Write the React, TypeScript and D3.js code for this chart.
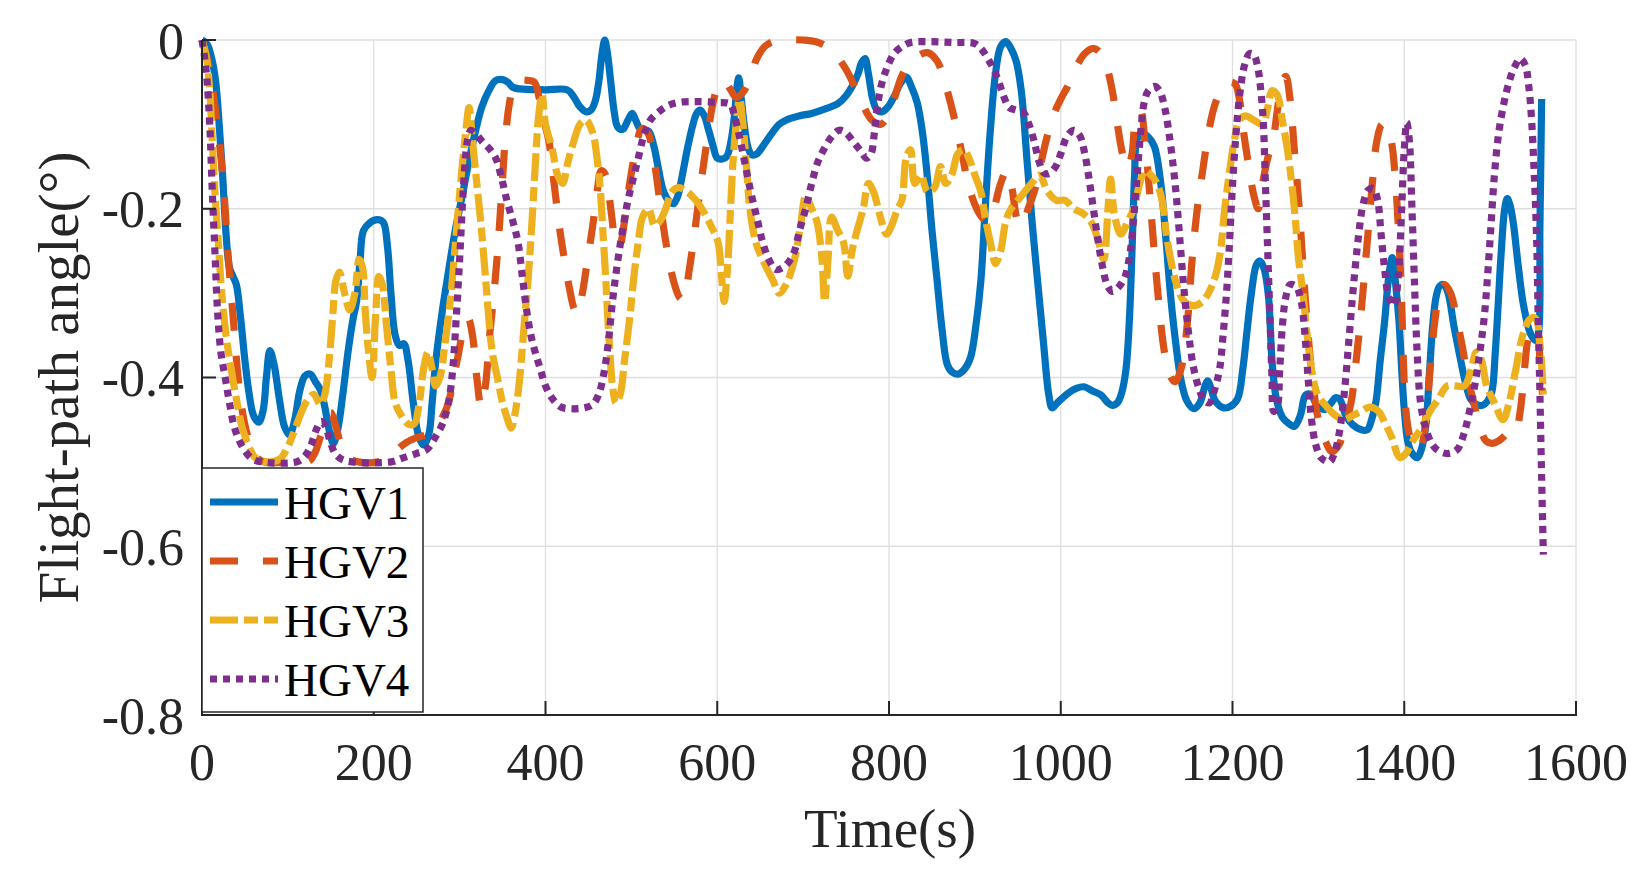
import React from "react";
import * as d3 from "d3";

type Pt = [number, number];

const xTicks = [0, 200, 400, 600, 800, 1000, 1200, 1400, 1600];
const yTicks = [0, -0.2, -0.4, -0.6, -0.8];
const yTickLabels = ["0", "-0.2", "-0.4", "-0.6", "-0.8"];
const seriesNames = ["HGV1", "HGV2", "HGV3", "HGV4"];

const hgv1: Pt[] = [
  [0,0],[6,-0.005],[12,-0.025],[16,-0.05],[20,-0.1],[24,-0.16],[28,-0.23],[32,-0.27],[36,-0.28],[40,-0.29],[45,-0.33],[50,-0.38],[55,-0.42],[60,-0.445],[66,-0.453],[71,-0.44],[75,-0.4],[79,-0.368],[84,-0.385],[90,-0.425],[96,-0.458],[102,-0.468],[108,-0.45],[114,-0.415],[120,-0.398],[126,-0.396],[132,-0.405],[138,-0.415],[143,-0.435],[148,-0.462],[153,-0.478],[158,-0.462],[164,-0.42],[170,-0.37],[176,-0.33],[180,-0.31],[184,-0.262],[188,-0.226],[195,-0.217],[204,-0.213],[211,-0.216],[216,-0.245],[220,-0.3],[225,-0.35],[230,-0.362],[235,-0.36],[240,-0.38],[246,-0.43],[252,-0.468],[258,-0.48],[264,-0.468],[268,-0.43],[272,-0.383],[280,-0.32],[288,-0.268],[295,-0.225],[302,-0.19],[310,-0.148],[318,-0.11],[326,-0.079],[334,-0.06],[342,-0.048],[350,-0.047],[356,-0.05],[362,-0.056],[370,-0.058],[400,-0.059],[425,-0.059],[432,-0.066],[440,-0.079],[447,-0.085],[453,-0.083],[458,-0.072],[462,-0.05],[466,-0.015],[469,0],[472,-0.015],[476,-0.05],[480,-0.085],[484,-0.103],[490,-0.106],[496,-0.095],[501,-0.087],[505,-0.095],[510,-0.105],[520,-0.108],[526,-0.125],[531,-0.15],[537,-0.178],[543,-0.19],[549,-0.194],[554,-0.185],[559,-0.162],[565,-0.13],[571,-0.103],[576,-0.087],[580,-0.083],[585,-0.09],[590,-0.107],[595,-0.125],[600,-0.14],[606,-0.141],[611,-0.138],[616,-0.12],[620,-0.09],[623,-0.055],[625,-0.045],[628,-0.07],[632,-0.105],[636,-0.128],[640,-0.136],[646,-0.135],[655,-0.123],[664,-0.11],[672,-0.1],[680,-0.095],[695,-0.09],[710,-0.087],[725,-0.082],[741,-0.075],[750,-0.066],[757,-0.055],[764,-0.04],[768,-0.027],[772,-0.022],[776,-0.04],[781,-0.07],[786,-0.083],[792,-0.085],[799,-0.079],[806,-0.067],[813,-0.052],[820,-0.044],[826,-0.055],[833,-0.075],[839,-0.11],[845,-0.166],[850,-0.225],[856,-0.285],[862,-0.345],[868,-0.385],[874,-0.394],[880,-0.396],[888,-0.39],[895,-0.376],[901,-0.34],[907,-0.285],[912,-0.2],[918,-0.107],[924,-0.04],[930,-0.008],[936,-0.002],[942,-0.01],[948,-0.025],[954,-0.06],[961,-0.146],[967,-0.22],[973,-0.285],[980,-0.36],[986,-0.42],[990,-0.436],[996,-0.43],[1008,-0.419],[1018,-0.413],[1027,-0.411],[1037,-0.416],[1047,-0.421],[1055,-0.43],[1060,-0.433],[1066,-0.43],[1071,-0.418],[1076,-0.39],[1080,-0.33],[1083,-0.25],[1086,-0.16],[1089,-0.117],[1095,-0.111],[1102,-0.115],[1109,-0.126],[1116,-0.166],[1122,-0.23],[1128,-0.304],[1134,-0.36],[1140,-0.403],[1147,-0.428],[1155,-0.437],[1162,-0.43],[1168,-0.41],[1171,-0.404],[1175,-0.413],[1180,-0.428],[1190,-0.436],[1198,-0.434],[1206,-0.425],[1212,-0.39],[1217,-0.344],[1222,-0.3],[1228,-0.266],[1232,-0.262],[1237,-0.272],[1242,-0.305],[1246,-0.38],[1251,-0.425],[1258,-0.447],[1266,-0.455],[1272,-0.458],[1279,-0.445],[1285,-0.421],[1291,-0.42],[1298,-0.432],[1307,-0.438],[1315,-0.43],[1320,-0.424],[1325,-0.426],[1332,-0.445],[1340,-0.456],[1350,-0.462],[1357,-0.462],[1362,-0.45],[1367,-0.429],[1372,-0.38],[1377,-0.335],[1382,-0.28],[1386,-0.258],[1390,-0.29],[1394,-0.335],[1397,-0.39],[1400,-0.438],[1404,-0.475],[1408,-0.488],[1415,-0.495],[1420,-0.485],[1425,-0.458],[1429,-0.4],[1433,-0.34],[1437,-0.305],[1441,-0.292],[1446,-0.29],[1451,-0.3],[1458,-0.34],[1465,-0.376],[1471,-0.405],[1477,-0.425],[1484,-0.432],[1491,-0.433],[1497,-0.428],[1502,-0.417],[1506,-0.37],[1509,-0.32],[1513,-0.25],[1517,-0.2],[1520,-0.188],[1523,-0.195],[1527,-0.217],[1533,-0.27],[1539,-0.315],[1547,-0.348],[1553,-0.356],[1556,-0.35],[1558,-0.22],[1560,-0.07]
];

const hgv2: Pt[] = [
  [0,0],[8,-0.03],[14,-0.07],[20,-0.12],[24,-0.16],[27,-0.2],[30,-0.25],[34,-0.3],[38,-0.35],[42,-0.4],[47,-0.44],[52,-0.465],[60,-0.49],[72,-0.5],[100,-0.5],[120,-0.5],[126,-0.498],[132,-0.488],[138,-0.47],[145,-0.452],[150,-0.442],[155,-0.455],[162,-0.48],[170,-0.495],[182,-0.5],[205,-0.5],[218,-0.495],[228,-0.485],[238,-0.477],[248,-0.472],[260,-0.468],[270,-0.462],[280,-0.447],[287,-0.43],[293,-0.4],[299,-0.37],[305,-0.34],[310,-0.33],[315,-0.35],[320,-0.4],[325,-0.435],[330,-0.41],[335,-0.35],[340,-0.3],[345,-0.24],[349,-0.18],[353,-0.12],[358,-0.075],[363,-0.055],[370,-0.048],[380,-0.048],[387,-0.05],[393,-0.07],[398,-0.095],[404,-0.12],[410,-0.17],[416,-0.22],[422,-0.26],[428,-0.295],[434,-0.32],[438,-0.324],[443,-0.3],[449,-0.26],[455,-0.22],[460,-0.18],[465,-0.155],[470,-0.16],[476,-0.2],[481,-0.235],[486,-0.245],[492,-0.215],[498,-0.17],[505,-0.13],[512,-0.105],[519,-0.11],[526,-0.14],[533,-0.19],[541,-0.245],[549,-0.285],[556,-0.305],[561,-0.308],[567,-0.275],[574,-0.225],[581,-0.17],[588,-0.12],[595,-0.075],[601,-0.055],[607,-0.048],[615,-0.058],[622,-0.068],[630,-0.062],[638,-0.045],[646,-0.022],[655,-0.008],[665,-0.002],[680,0],[700,0],[715,-0.002],[728,-0.008],[740,-0.02],[750,-0.035],[760,-0.055],[770,-0.078],[780,-0.095],[790,-0.1],[798,-0.092],[806,-0.07],[814,-0.045],[822,-0.03],[832,-0.02],[845,-0.015],[856,-0.025],[865,-0.05],[873,-0.08],[880,-0.11],[886,-0.14],[892,-0.17],[900,-0.195],[908,-0.21],[915,-0.215],[922,-0.2],[930,-0.17],[937,-0.155],[943,-0.175],[950,-0.215],[955,-0.22],[962,-0.2],[969,-0.18],[976,-0.15],[984,-0.115],[992,-0.088],[1000,-0.07],[1008,-0.055],[1018,-0.032],[1028,-0.016],[1038,-0.01],[1046,-0.015],[1053,-0.03],[1060,-0.06],[1066,-0.1],[1072,-0.135],[1078,-0.152],[1083,-0.135],[1088,-0.09],[1093,-0.085],[1098,-0.12],[1103,-0.175],[1108,-0.24],[1114,-0.31],[1120,-0.365],[1126,-0.395],[1133,-0.405],[1140,-0.39],[1147,-0.34],[1153,-0.26],[1159,-0.2],[1166,-0.15],[1172,-0.11],[1180,-0.075],[1188,-0.058],[1196,-0.05],[1203,-0.052],[1208,-0.07],[1213,-0.11],[1219,-0.15],[1225,-0.185],[1230,-0.2],[1235,-0.17],[1241,-0.14],[1247,-0.12],[1252,-0.085],[1257,-0.052],[1262,-0.043],[1267,-0.07],[1272,-0.13],[1277,-0.19],[1281,-0.25],[1285,-0.31],[1289,-0.36],[1294,-0.41],[1300,-0.45],[1308,-0.475],[1316,-0.488],[1324,-0.48],[1330,-0.46],[1338,-0.43],[1344,-0.38],[1350,-0.32],[1356,-0.25],[1362,-0.18],[1368,-0.12],[1374,-0.1],[1379,-0.1],[1385,-0.12],[1390,-0.17],[1394,-0.24],[1397,-0.31],[1399,-0.38],[1402,-0.44],[1406,-0.468],[1413,-0.485],[1420,-0.48],[1426,-0.44],[1431,-0.38],[1436,-0.33],[1441,-0.3],[1447,-0.29],[1454,-0.3],[1461,-0.33],[1467,-0.36],[1474,-0.4],[1481,-0.43],[1487,-0.455],[1495,-0.475],[1502,-0.478],[1510,-0.475],[1518,-0.468],[1524,-0.46],[1530,-0.462],[1535,-0.44],[1540,-0.39],[1545,-0.35],[1550,-0.34],[1555,-0.345],[1558,-0.38],[1561,-0.42]
];

const hgv3: Pt[] = [
  [0,0],[5,-0.02],[9,-0.06],[12,-0.12],[15,-0.18],[19,-0.24],[23,-0.3],[28,-0.35],[34,-0.39],[40,-0.425],[47,-0.46],[54,-0.48],[62,-0.495],[75,-0.5],[90,-0.497],[100,-0.482],[108,-0.462],[115,-0.443],[122,-0.428],[130,-0.42],[138,-0.432],[143,-0.42],[148,-0.38],[152,-0.33],[156,-0.285],[160,-0.275],[166,-0.3],[172,-0.32],[178,-0.3],[183,-0.26],[187,-0.27],[190,-0.32],[194,-0.37],[198,-0.4],[202,-0.33],[206,-0.28],[210,-0.29],[215,-0.34],[220,-0.39],[225,-0.43],[232,-0.445],[240,-0.455],[247,-0.455],[253,-0.43],[258,-0.39],[263,-0.37],[268,-0.39],[272,-0.41],[277,-0.4],[283,-0.36],[290,-0.3],[296,-0.23],[302,-0.16],[307,-0.11],[311,-0.08],[315,-0.12],[320,-0.17],[325,-0.22],[330,-0.28],[334,-0.33],[338,-0.37],[344,-0.4],[350,-0.43],[356,-0.45],[360,-0.46],[365,-0.44],[370,-0.4],[375,-0.34],[380,-0.28],[384,-0.22],[388,-0.15],[392,-0.09],[396,-0.065],[400,-0.1],[408,-0.13],[414,-0.16],[420,-0.17],[426,-0.145],[433,-0.12],[440,-0.1],[447,-0.095],[455,-0.11],[460,-0.14],[464,-0.18],[467,-0.23],[470,-0.28],[472,-0.32],[475,-0.37],[478,-0.41],[482,-0.43],[487,-0.42],[492,-0.38],[498,-0.33],[503,-0.28],[508,-0.24],[513,-0.21],[520,-0.2],[527,-0.22],[533,-0.215],[540,-0.2],[547,-0.18],[555,-0.175],[565,-0.18],[575,-0.19],[585,-0.205],[595,-0.225],[601,-0.24],[605,-0.28],[608,-0.31],[612,-0.27],[615,-0.21],[618,-0.15],[622,-0.1],[626,-0.07],[630,-0.1],[634,-0.15],[638,-0.2],[645,-0.24],[655,-0.265],[665,-0.285],[672,-0.3],[680,-0.29],[690,-0.26],[697,-0.22],[703,-0.185],[710,-0.2],[716,-0.215],[722,-0.26],[725,-0.31],[729,-0.26],[733,-0.21],[740,-0.225],[747,-0.24],[752,-0.28],[757,-0.25],[763,-0.225],[770,-0.2],[776,-0.17],[782,-0.18],[790,-0.21],[797,-0.23],[803,-0.22],[810,-0.2],[815,-0.19],[820,-0.14],[825,-0.13],[830,-0.17],[837,-0.16],[845,-0.18],[853,-0.175],[860,-0.15],[866,-0.17],[873,-0.16],[880,-0.135],[887,-0.13],[893,-0.14],[900,-0.16],[907,-0.18],[912,-0.21],[918,-0.24],[924,-0.265],[930,-0.25],[936,-0.215],[942,-0.2],[950,-0.19],[958,-0.18],[966,-0.17],[975,-0.16],[985,-0.18],[995,-0.19],[1005,-0.19],[1015,-0.2],[1025,-0.205],[1035,-0.215],[1043,-0.235],[1050,-0.26],[1055,-0.2],[1058,-0.165],[1063,-0.21],[1070,-0.23],[1078,-0.215],[1085,-0.2],[1092,-0.17],[1098,-0.155],[1105,-0.16],[1112,-0.17],[1118,-0.19],[1123,-0.23],[1128,-0.26],[1135,-0.29],[1144,-0.31],[1155,-0.315],[1165,-0.31],[1172,-0.3],[1180,-0.28],[1186,-0.25],[1191,-0.2],[1196,-0.16],[1202,-0.12],[1208,-0.095],[1215,-0.09],[1225,-0.095],[1235,-0.1],[1241,-0.08],[1246,-0.06],[1252,-0.065],[1258,-0.095],[1264,-0.13],[1269,-0.17],[1273,-0.21],[1277,-0.26],[1282,-0.3],[1287,-0.35],[1292,-0.39],[1299,-0.42],[1310,-0.435],[1320,-0.445],[1330,-0.45],[1340,-0.445],[1350,-0.44],[1360,-0.435],[1370,-0.44],[1378,-0.455],[1385,-0.47],[1395,-0.495],[1402,-0.49],[1410,-0.475],[1420,-0.46],[1430,-0.44],[1440,-0.425],[1450,-0.41],[1460,-0.41],[1470,-0.41],[1478,-0.39],[1484,-0.37],[1490,-0.38],[1496,-0.41],[1505,-0.43],[1515,-0.45],[1522,-0.43],[1530,-0.39],[1538,-0.35],[1547,-0.33],[1553,-0.33],[1558,-0.36],[1562,-0.42]
];

const hgv4: Pt[] = [
  [0,0],[3,-0.02],[6,-0.05],[9,-0.1],[12,-0.18],[15,-0.25],[18,-0.32],[22,-0.37],[27,-0.4],[32,-0.43],[38,-0.46],[47,-0.482],[58,-0.496],[70,-0.5],[110,-0.5],[120,-0.493],[127,-0.48],[133,-0.462],[139,-0.452],[144,-0.458],[149,-0.475],[155,-0.49],[163,-0.497],[175,-0.5],[220,-0.5],[235,-0.495],[250,-0.49],[262,-0.485],[272,-0.47],[280,-0.455],[287,-0.43],[292,-0.39],[296,-0.33],[300,-0.26],[303,-0.2],[306,-0.15],[309,-0.12],[313,-0.107],[318,-0.11],[326,-0.12],[334,-0.128],[342,-0.14],[348,-0.16],[355,-0.19],[362,-0.215],[368,-0.24],[373,-0.28],[378,-0.32],[383,-0.35],[388,-0.37],[394,-0.39],[400,-0.41],[408,-0.425],[418,-0.435],[430,-0.437],[445,-0.436],[455,-0.432],[462,-0.42],[468,-0.395],[473,-0.36],[478,-0.31],[483,-0.27],[489,-0.23],[496,-0.19],[502,-0.165],[508,-0.14],[514,-0.115],[522,-0.095],[532,-0.085],[542,-0.078],[555,-0.074],[575,-0.073],[600,-0.074],[615,-0.076],[620,-0.09],[626,-0.115],[632,-0.145],[639,-0.18],[646,-0.21],[653,-0.24],[660,-0.26],[668,-0.272],[676,-0.27],[684,-0.262],[690,-0.25],[696,-0.225],[703,-0.2],[710,-0.17],[717,-0.145],[725,-0.128],[733,-0.115],[742,-0.107],[750,-0.11],[758,-0.12],[766,-0.13],[774,-0.14],[779,-0.135],[783,-0.11],[787,-0.075],[792,-0.05],[798,-0.032],[806,-0.016],[815,-0.008],[825,-0.003],[850,-0.002],[875,-0.003],[899,-0.004],[907,-0.01],[915,-0.022],[922,-0.035],[928,-0.05],[934,-0.068],[940,-0.08],[948,-0.083],[956,-0.085],[963,-0.1],[969,-0.12],[975,-0.145],[981,-0.158],[987,-0.158],[994,-0.15],[1000,-0.135],[1007,-0.115],[1015,-0.107],[1022,-0.113],[1028,-0.135],[1033,-0.165],[1038,-0.2],[1043,-0.235],[1048,-0.265],[1054,-0.29],[1060,-0.298],[1068,-0.292],[1075,-0.28],[1081,-0.25],[1085,-0.21],[1089,-0.16],[1093,-0.11],[1097,-0.075],[1102,-0.06],[1109,-0.055],[1115,-0.06],[1121,-0.08],[1126,-0.11],[1131,-0.15],[1135,-0.19],[1139,-0.24],[1143,-0.29],[1148,-0.34],[1154,-0.385],[1160,-0.41],[1167,-0.427],[1173,-0.43],[1179,-0.415],[1185,-0.39],[1189,-0.35],[1193,-0.3],[1196,-0.25],[1199,-0.19],[1202,-0.14],[1205,-0.1],[1209,-0.06],[1214,-0.03],[1220,-0.016],[1225,-0.018],[1229,-0.03],[1233,-0.06],[1236,-0.1],[1238,-0.16],[1240,-0.22],[1242,-0.28],[1244,-0.34],[1246,-0.4],[1248,-0.44],[1252,-0.435],[1255,-0.39],[1258,-0.34],[1262,-0.305],[1267,-0.29],[1274,-0.292],[1280,-0.31],[1284,-0.345],[1288,-0.4],[1292,-0.45],[1297,-0.48],[1303,-0.495],[1313,-0.5],[1320,-0.485],[1326,-0.455],[1331,-0.41],[1336,-0.35],[1341,-0.29],[1347,-0.23],[1352,-0.195],[1358,-0.178],[1364,-0.176],[1369,-0.19],[1373,-0.23],[1377,-0.27],[1382,-0.305],[1388,-0.315],[1393,-0.28],[1397,-0.2],[1400,-0.13],[1403,-0.098],[1406,-0.12],[1409,-0.2],[1412,-0.29],[1415,-0.37],[1419,-0.43],[1425,-0.46],[1433,-0.48],[1442,-0.488],[1452,-0.49],[1462,-0.485],[1470,-0.465],[1476,-0.44],[1482,-0.41],[1488,-0.37],[1493,-0.33],[1497,-0.28],[1501,-0.22],[1505,-0.16],[1510,-0.11],[1516,-0.075],[1522,-0.05],[1528,-0.033],[1535,-0.022],[1541,-0.03],[1545,-0.055],[1548,-0.09],[1551,-0.15],[1554,-0.23],[1556,-0.33],[1558,-0.42],[1560,-0.52],[1562,-0.61]
];

const seriesData = [hgv1, hgv2, hgv3, hgv4];
const seriesColors = ["#0072BD", "#D95319", "#EDB120", "#7E2F8E"];
const seriesDash = ["none", "28 25", "28 6 14 6", "7 6"];

const W = 1648;
const H = 879;
const FONT = "'Liberation Serif', 'Times New Roman', Times, serif";

export default function App() {
  const x = d3.scaleLinear().domain([0, 1600]).range([202, 1576]);
  const y = d3.scaleLinear().domain([-0.8, 0]).range([715, 40]);
  const line = d3
    .line<Pt>()
    .x((d) => x(d[0]))
    .y((d) => y(d[1]))
    .curve(d3.curveCatmullRom.alpha(0.5));

  const axisColor = "#262626";
  const gridColor = "#dfdfdf";
  const lw = 7.2;

  const legendX = 202;
  const legendY = 468;
  const legendW = 221;
  const legendH = 244;
  const legendRowY = [502, 561, 620, 679];

  return (
    <svg
      width={W}
      height={H}
      viewBox={`0 0 ${W} ${H}`}
      style={{ position: "absolute", left: 0, top: 0, background: "#fff", display: "block" }}
    >
      <rect x={0} y={0} width={W} height={H} fill="#fff" />
      <g stroke={gridColor} strokeWidth={1.3}>
        {xTicks.filter((t) => t !== 0).map((t) => (
          <line key={"gx" + t} x1={x(t)} x2={x(t)} y1={y(0)} y2={y(-0.8)} />
        ))}
        {yTicks.filter((t) => t !== -0.8).map((t) => (
          <line key={"gy" + t} x1={x(0)} x2={x(1600)} y1={y(t)} y2={y(t)} />
        ))}
      </g>
      <g fill="none">
        {seriesData.map((d, i) => (
          <path
            key={seriesNames[i]}
            d={line(d) || ""}
            stroke={seriesColors[i]}
            strokeWidth={lw}
            strokeDasharray={seriesDash[i]}
            strokeLinecap="butt"
            strokeLinejoin="round"
          />
        ))}
      </g>
      <g stroke={axisColor} strokeWidth={2} fill="none">
        <line x1={x(0)} x2={x(0)} y1={y(0)} y2={y(-0.8) + 1} />
        <line x1={x(0) - 1} x2={x(1600) + 1} y1={y(-0.8)} y2={y(-0.8)} />
        {xTicks.map((t) => (
          <line key={"tx" + t} x1={x(t)} x2={x(t)} y1={y(-0.8)} y2={y(-0.8) - 14} />
        ))}
        {yTicks.map((t) => (
          <line key={"ty" + t} x1={x(0)} x2={x(0) + 14} y1={y(t)} y2={y(t)} />
        ))}
      </g>
      <g fontFamily={FONT} fontSize={52} fill={axisColor}>
        {xTicks.map((t) => (
          <text key={"lx" + t} x={x(t)} y={780} textAnchor="middle">
            {String(t)}
          </text>
        ))}
        {yTicks.map((t, i) => (
          <text key={"ly" + t} x={184} y={y(t) + 18.5} textAnchor="end">
            {yTickLabels[i]}
          </text>
        ))}
      </g>
      <text x={890} y={847} textAnchor="middle" fontFamily={FONT} fontSize={55} fill={axisColor}>
        Time(s)
      </text>
      <text
        transform={`translate(78, ${(y(0) + y(-0.8)) / 2}) rotate(-90)`}
        textAnchor="middle"
        fontFamily={FONT}
        fontSize={57}
        fill={axisColor}
      >
        Flight-path angle(°)
      </text>
      <g>
        <rect
          x={legendX}
          y={legendY}
          width={legendW}
          height={legendH}
          fill="#fff"
          stroke={axisColor}
          strokeWidth={1.5}
        />
        {seriesNames.map((name, i) => (
          <g key={"leg" + name}>
            <line
              x1={210}
              x2={278}
              y1={legendRowY[i]}
              y2={legendRowY[i]}
              stroke={seriesColors[i]}
              strokeWidth={lw}
              strokeDasharray={seriesDash[i]}
              strokeLinecap="butt"
            />
            <text x={284} y={legendRowY[i] + 17} fontFamily={FONT} fontSize={47} fill="#000">
              {name}
            </text>
          </g>
        ))}
      </g>
    </svg>
  );
}
